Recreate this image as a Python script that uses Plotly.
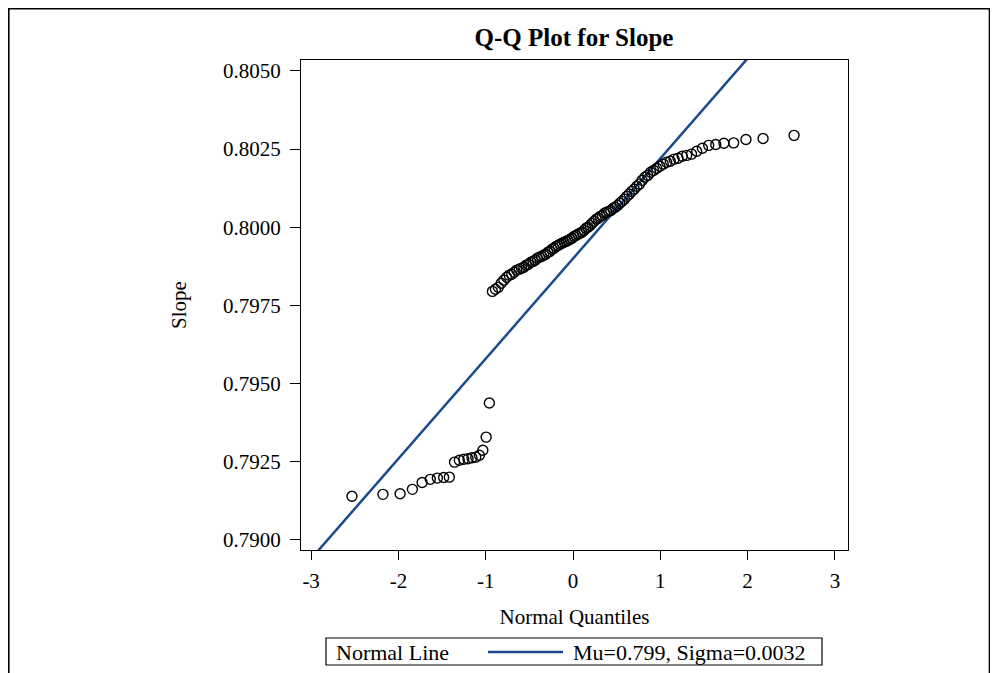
import plotly.graph_objects as go
from statistics import NormalDist

slope_values = [
    0.79140, 0.79146, 0.79148, 0.79162, 0.79184, 0.79194, 0.79198, 0.79200, 0.79201,
    0.79249, 0.79255, 0.79258, 0.79260, 0.79263, 0.79265, 0.79271, 0.79287, 0.79329,
    0.79438,
    0.79795, 0.79802, 0.79808, 0.79821, 0.79831, 0.79840, 0.79847, 0.79850, 0.79856,
    0.79863, 0.79866, 0.79869, 0.79872, 0.79879, 0.79882, 0.79888, 0.79891, 0.79895,
    0.79901, 0.79904, 0.79907, 0.79911, 0.79914, 0.79920, 0.79923, 0.79930, 0.79933,
    0.79939, 0.79942, 0.79946, 0.79949, 0.79952, 0.79955, 0.79958, 0.79962, 0.79965,
    0.79971, 0.79974, 0.79978, 0.79981, 0.79984, 0.79990, 0.79997, 0.80000, 0.80006,
    0.80013, 0.80019, 0.80026, 0.80029, 0.80035, 0.80038, 0.80045, 0.80048, 0.80051,
    0.80054, 0.80061, 0.80064, 0.80070, 0.80077, 0.80083, 0.80090, 0.80099, 0.80106,
    0.80115, 0.80122, 0.80131, 0.80138, 0.80150, 0.80160, 0.80166, 0.80176, 0.80182,
    0.80189, 0.80195, 0.80202, 0.80208, 0.80211, 0.80218, 0.80221, 0.80227, 0.80230,
    0.80234, 0.80243, 0.80253, 0.80262, 0.80265, 0.80269, 0.80270, 0.80281, 0.80284,
    0.80294,
]

mu = 0.799
sigma = 0.0032

x_tick_vals = [-3, -2, -1, 0, 1, 2, 3]
x_tick_text = ["-3", "-2", "-1", "0", "1", "2", "3"]
y_tick_vals = [0.7900, 0.7925, 0.7950, 0.7975, 0.8000, 0.8025, 0.8050]
y_tick_text = ["0.7900", "0.7925", "0.7950", "0.7975", "0.8000", "0.8025", "0.8050"]
x_range = [-3.116, 3.150]
y_range = [0.78968, 0.80535]

title_text = "Q-Q Plot for Slope"
x_title = "Normal Quantiles"
y_title = "Slope"
legend_title = "Normal Line"
legend_label = "Mu=0.799, Sigma=0.0032"

FONT = "Liberation Serif, Times New Roman, serif"
LINE_COLOR = "#1b4a8e"

data_sorted = sorted(slope_values)
n = len(data_sorted)
nd = NormalDist()
quantiles = [nd.inv_cdf((i + 1 - 0.375) / (n + 0.25)) for i in range(n)]

line_x = [x_range[0] - 0.5, x_range[1] + 0.5]
line_y = [mu + sigma * v for v in line_x]

fig = go.Figure()
fig.add_trace(go.Scatter(
    x=line_x, y=line_y, mode="lines",
    line=dict(color=LINE_COLOR, width=2.5),
    name=legend_label, showlegend=False,
))
fig.add_trace(go.Scatter(
    x=quantiles, y=data_sorted, mode="markers",
    marker=dict(symbol="circle-open", size=10, color="black", line=dict(width=1.4)),
    showlegend=False, name="Slope",
))

# page has an 8px body margin
OFF = 8
W, H = 982, 665
L, T = 293, 52
R = W - 840
B = H - 542
pw, ph = W - L - R, H - T - B

def px(pxx):
    """page x pixel -> paper x"""
    return (pxx - OFF - L) / pw

def py(pyy):
    """page y pixel -> paper y"""
    return (H - B - (pyy - OFF)) / ph

TICK = 21
LEG = 22
shapes = [
    # outer frame
    dict(type="rect", xref="paper", yref="paper",
         x0=px(8.8), x1=px(989.5), y0=py(720), y1=py(8.8),
         line=dict(color="black", width=1.6), fillcolor="rgba(0,0,0,0)", layer="below"),
    # legend box
    dict(type="rect", xref="paper", yref="paper",
         x0=px(326), x1=px(822), y0=py(665), y1=py(638),
         line=dict(color="black", width=1.2), fillcolor="white", layer="above"),
    # legend line sample
    dict(type="line", xref="paper", yref="paper",
         x0=px(488), x1=px(563), y0=py(652), y1=py(652),
         line=dict(color=LINE_COLOR, width=2.5), layer="above"),
]
annotations = [
    dict(text=legend_title, xref="paper", yref="paper", x=px(334), y=py(652),
         xanchor="left", yanchor="middle", showarrow=False, font=dict(size=LEG)),
    dict(text=legend_label, xref="paper", yref="paper", x=px(571), y=py(652),
         xanchor="left", yanchor="middle", showarrow=False, font=dict(size=LEG)),
]

fig.update_layout(
    width=W, height=H, autosize=False,
    margin=dict(l=L, r=R, t=T, b=B),
    paper_bgcolor="white", plot_bgcolor="white",
    font=dict(family=FONT, color="black", size=TICK),
    showlegend=False,
    title=dict(text="<b>" + title_text + "</b>", x=px(574), xref="paper",
               xanchor="center", y=1 - (37 - OFF) / H, yanchor="middle",
               font=dict(family=FONT, size=25, color="black")),
    xaxis=dict(range=x_range, tickvals=x_tick_vals, ticktext=x_tick_text,
               showline=True, linecolor="black", linewidth=1.2, mirror=True,
               ticks="outside", ticklen=9, tickcolor="black", tickwidth=1.2, showgrid=False,
               zeroline=False, tickfont=dict(size=TICK), ticklabelstandoff=3,
               title=dict(text=x_title, standoff=17, font=dict(size=TICK))),
    yaxis=dict(range=y_range, tickvals=y_tick_vals, ticktext=y_tick_text,
               showline=True, linecolor="black", linewidth=1.2, mirror=True,
               ticks="outside", ticklen=10, tickcolor="black", tickwidth=1.2, showgrid=False,
               zeroline=False, tickfont=dict(size=TICK), ticklabelstandoff=5,
               title=dict(text=y_title, standoff=30, font=dict(size=TICK))),
    shapes=shapes,
    annotations=annotations,
)

fig.write_html("out.html")
